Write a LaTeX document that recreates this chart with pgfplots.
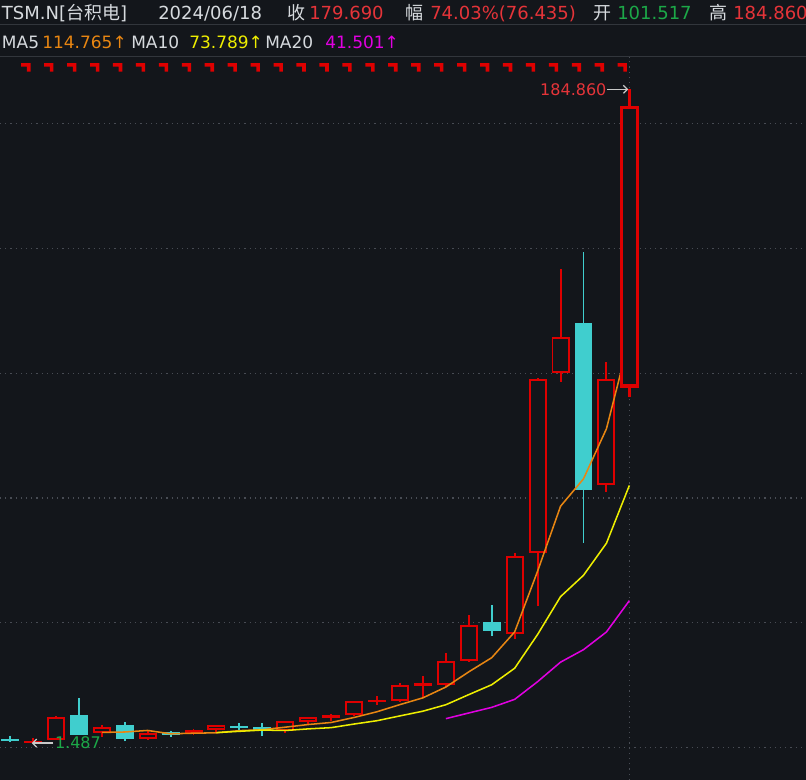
\documentclass[border=0pt]{standalone}
\usepackage{pgfplots}
\usepackage{pgfplotstable}
\pgfplotsset{compat=1.18}
\usepgfplotslibrary{statistics}
\usetikzlibrary{arrows.meta}
\usepackage{fontspec}
\setmainfont{DejaVu Sans}
\newfontfamily\cjk{Noto Sans CJK SC}

\definecolor{bg}{RGB}{19,22,27}
\definecolor{sep}{RGB}{50,54,60}
\definecolor{gridc}{RGB}{72,76,84}
\definecolor{lbl}{RGB}{214,218,222}
\definecolor{txtred}{RGB}{229,52,57}
\definecolor{txtgreen}{RGB}{28,168,72}
\definecolor{candlered}{RGB}{222,0,0}
\definecolor{candlecyan}{RGB}{64,206,206}
\definecolor{maorange}{RGB}{232,134,18}
\definecolor{mayellow}{RGB}{238,238,0}
\definecolor{mamagenta}{RGB}{225,0,225}
\definecolor{arrowgray}{RGB}{200,200,200}

\newcommand\hfont{\fontsize{13.5pt}{16pt}\selectfont}
\newcommand\mfont{\fontsize{12.75pt}{16pt}\selectfont}
\newcommand\afont{\fontsize{12pt}{14pt}\selectfont}

% yearly candles, TSM.N
\pgfplotstableread{
i  open    close   high    low    ma5     ma10   ma20
1  2.25    2.05    3.37    1.60   nan     nan    nan
2  1.60    1.70    2.72    1.487  nan     nan    nan
3  2.36    8.42    8.98    2.30   nan     nan    nan
4  8.95    3.85    13.96   3.80   nan     nan    nan
5  4.32    5.45    6.37    2.92   4.29    nan    nan
6  6.00    2.64    7.22    1.80   4.41    nan    nan
7  2.72    3.85    4.69    2.16   4.84    nan    nan
8  4.00    3.70    4.77    3.09   3.90    nan    nan
9  4.21    4.69    5.17    3.57   4.07    nan    nan
10 5.25    6.00    6.05    4.04   4.18    4.24   nan
11 5.95    5.70    6.85    4.69   4.79    4.60   nan
12 5.60    5.17    6.85    3.37   5.05    4.95   nan
13 4.88    7.22    7.30    4.04   5.76    4.83   nan
14 7.41    8.42    8.50    6.37   6.50    5.28   nan
15 8.70    8.90    9.46    7.58   7.08    5.63   nan
16 9.55    12.75   12.85   8.90   8.49    6.64   nan
17 13.00   13.20   14.60   12.00  10.10   7.58   nan
18 13.30   17.24   18.08   12.75  12.10   8.93   nan
19 17.70   17.90   20.20   14.00  14.00   10.25  nan
20 18.00   24.06   26.60   17.13  17.03   12.06  8.15
21 24.60   34.10   37.20   24.15  21.30   14.90  9.75
22 35.10   33.05   40.07   31.37  25.27   17.68  11.32
23 32.30   53.46   54.75   30.44  32.51   22.31  13.57
24 55.04   103.25  103.70  39.87  49.58   31.79  18.54
25 105.60  115.10  134.40  102.60 67.79   42.41  24.02
26 118.90  72.60   139.10  57.60  75.49   48.40  27.52
27 74.05   103.25  108.40  71.70  89.53   57.40  32.49
28 101.517 179.69  184.86  98.60  114.78  73.64  41.29
}\ohlc
\pgfplotstablecreatecol[create col/expr={min(\thisrow{open},\thisrow{close})}]{bot}\ohlc
\pgfplotstablecreatecol[create col/expr={max(\thisrow{open},\thisrow{close})}]{top}\ohlc

% small red flag above each candle
\pgfdeclareplotmark{flag}{%
  \pgfpathmoveto{\pgfpoint{-8.8pt}{0pt}}%
  \pgfpathlineto{\pgfpoint{-1.8pt}{0pt}}%
  \pgfpathlineto{\pgfpoint{-1.8pt}{-6.4pt}}%
  \pgfpathlineto{\pgfpoint{-4.5pt}{-6.4pt}}%
  \pgfpathlineto{\pgfpoint{-4.5pt}{-2.6pt}}%
  \pgfpathlineto{\pgfpoint{-8.8pt}{-2.6pt}}%
  \pgfpathclose\pgfusepathqfill}

% one candle = one prepared boxplot, values taken from row #1 of \ohlc
\newcommand\candle[3]{%
  \pgfplotstablegetelem{#1}{low}\of\ohlc \let\cL\pgfplotsretval
  \pgfplotstablegetelem{#1}{high}\of\ohlc \let\cH\pgfplotsretval
  \pgfplotstablegetelem{#1}{bot}\of\ohlc \let\cB\pgfplotsretval
  \pgfplotstablegetelem{#1}{top}\of\ohlc \let\cT\pgfplotsretval
  \edef\doit{\noexpand\addplot[#3, boxplot prepared={draw position=#2,
      lower whisker=\cL, upper whisker=\cH,
      lower quartile=\cB, upper quartile=\cT, median=\cB}] coordinates {};}%
  \doit}

\begin{document}
\begin{tikzpicture}
\fill[bg, use as bounding box] (0,0) rectangle (604.5pt,585pt);
\begin{axis}[
  at={(0,0)}, anchor=south west,
  scale only axis, width=604.5pt, height=542.25pt,
  xmin=0.564, xmax=35.70, ymin=-9.07, ymax=193.93,
  axis line style={draw=none},
  xtick={28}, ytick={0,35.05,70.1,105.15,140.2,175.25},
  xticklabels={}, yticklabels={},
  major tick length=0pt,
  xmajorgrids, ymajorgrids,
  grid style={gridc, line width=0.9pt, dash pattern=on 0.9pt off 3pt},
  boxplot/draw direction=y,
  boxplot/box extend=0.7, boxplot/whisker extend=0,
  up/.style={draw=candlered, fill=bg, line width=1.45pt},
  dn/.style={draw=candlecyan, fill=candlecyan, line width=1.45pt},
]
\candle{0}{1}{dn}   \candle{1}{2}{up}   \candle{2}{3}{up}   \candle{3}{4}{dn}
\candle{4}{5}{up}   \candle{5}{6}{dn}   \candle{6}{7}{up}   \candle{7}{8}{dn}
\candle{8}{9}{up}   \candle{9}{10}{up}  \candle{10}{11}{dn} \candle{11}{12}{dn}
\candle{12}{13}{up} \candle{13}{14}{up} \candle{14}{15}{up} \candle{15}{16}{up}
\candle{16}{17}{up} \candle{17}{18}{up} \candle{18}{19}{up} \candle{19}{20}{up}
\candle{20}{21}{up} \candle{21}{22}{dn} \candle{22}{23}{up} \candle{23}{24}{up}
\candle{24}{25}{up} \candle{25}{26}{dn} \candle{26}{27}{up}

\addplot[maorange, line width=1.15pt] table[x=i, y=ma5] {\ohlc};
\addplot[mayellow, line width=1.15pt] table[x=i, y=ma10] {\ohlc};
\addplot[mamagenta, line width=1.15pt] table[x=i, y=ma20] {\ohlc};

% current (selected) candle on top
\candle{27}{28}{up, line width=2.5pt}

\addplot[only marks, mark=flag, mark options={fill=candlered, draw=none},
  skip coords between index={0}{1}] table[x=i, y expr=192.2] {\ohlc};

\draw[arrowgray, line width=0.9pt, -{Straight Barb[length=3pt,width=6pt]}]
  (axis cs:27.03,184.86) -- (axis cs:27.95,184.86);
\node[anchor=east, inner sep=0, text=txtred, font=\afont] at (axis cs:27.01,184.86) {184.860};
\draw[arrowgray, line width=0.9pt, -{Straight Barb[length=3pt,width=6pt]}]
  (axis cs:2.89,1.3) -- (axis cs:1.95,1.3);
\node[anchor=west, inner sep=0, text=txtgreen, font=\afont] at (axis cs:2.95,1.3) {1.487};
\end{axis}

\begin{scope}[x=0.75pt, y=0.75pt]
\draw[sep, line width=0.75pt] (0,755) -- (806,755);
\draw[sep, line width=0.75pt] (0,723) -- (806,723);
\begin{scope}[every node/.style={anchor=base west, inner sep=0, font=\hfont}]
\node[text=lbl] at (1.7,760.7) {TSM.N[{\cjk 台积电}]};
\node[text=lbl] at (158,760.7) {2024/06/18};
\node[text=lbl] at (287,760.7) {\cjk 收};
\node[text=txtred] at (309,760.7) {179.690};
\node[text=lbl] at (405,760.7) {\cjk 幅};
\node[text=txtred] at (430,760.7) {74.03\%(76.435)};
\node[text=lbl] at (593,760.7) {\cjk 开};
\node[text=txtgreen] at (617,760.7) {101.517};
\node[text=lbl] at (709,760.7) {\cjk 高};
\node[text=txtred] at (733,760.7) {184.860};
\end{scope}
\begin{scope}[every node/.style={anchor=base west, inner sep=0, font=\mfont}]
\node[text=lbl] at (1.7,731.7) {MA5};
\node[text=maorange] at (42,731.7) {114.765↑};
\node[text=lbl] at (131,731.7) {MA10};
\node[text=mayellow] at (189,731.7) {73.789↑};
\node[text=lbl] at (265,731.7) {MA20};
\node[text=mamagenta] at (325,731.7) {41.501↑};
\end{scope}
\end{scope}
\end{tikzpicture}
\end{document}
